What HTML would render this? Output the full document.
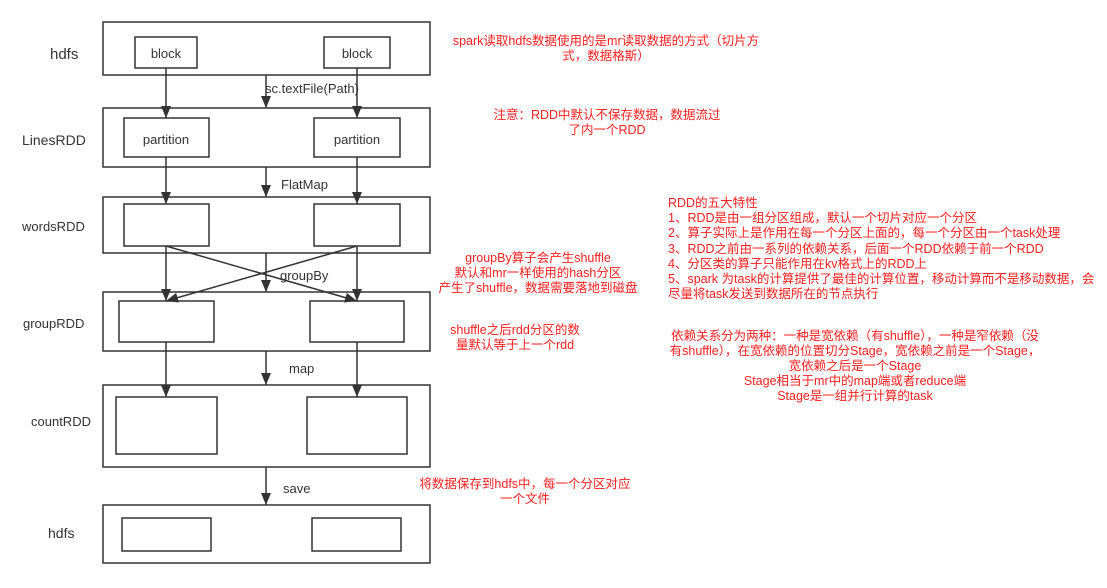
<!DOCTYPE html>
<html><head><meta charset="utf-8"><style>
body{margin:0;background:#fff;width:1107px;height:583px;overflow:hidden}
svg text{font-family:"Liberation Sans","Noto Sans CJK SC",sans-serif}
.r{fill:#ff2020;font-size:12.5px}
.k{fill:#333}
</style></head><body>
<svg width="1107" height="583" viewBox="0 0 1107 583" xmlns="http://www.w3.org/2000/svg">
<defs><marker id="a" markerWidth="10" markerHeight="12" refX="5" refY="12" orient="auto-start-reverse" markerUnits="userSpaceOnUse" viewBox="0 0 10 12"><path d="M0,0 L10,0 L5,12Z" fill="#333" transform="rotate(0)"/></marker>
<marker id="b" markerWidth="12" markerHeight="10" refX="12" refY="5" orient="auto" markerUnits="userSpaceOnUse"><path d="M0,0 L12,5 L0,10Z" fill="#333"/></marker></defs>
<g fill="none" stroke="#333" stroke-width="1.5">
<rect x="103" y="22" width="327" height="53"/>
<rect x="135" y="37" width="62" height="31"/><rect x="324" y="37" width="66" height="31"/>
<rect x="103" y="108" width="327" height="59"/>
<rect x="124" y="118" width="85" height="39"/><rect x="314" y="118" width="86" height="39"/>
<rect x="103" y="197" width="327" height="56"/>
<rect x="124" y="204" width="85" height="42"/><rect x="314" y="204" width="86" height="42"/>
<rect x="103" y="292" width="327" height="59"/>
<rect x="119" y="301" width="95" height="41"/><rect x="310" y="301" width="94" height="41"/>
<rect x="103" y="385" width="327" height="82"/>
<rect x="116" y="397" width="101" height="57"/><rect x="307" y="397" width="100" height="57"/>
<rect x="103" y="505" width="327" height="58"/>
<rect x="122" y="518" width="89" height="33"/><rect x="312" y="518" width="89" height="33"/>
</g>
<g stroke="#333" stroke-width="1.5">
<line x1="166" y1="68" x2="166" y2="118" marker-end="url(#b)"/>
<line x1="357" y1="68" x2="357" y2="118" marker-end="url(#b)"/>
<line x1="266" y1="75" x2="266" y2="108" marker-end="url(#b)"/>
<line x1="166" y1="157" x2="166" y2="204" marker-end="url(#b)"/>
<line x1="357" y1="157" x2="357" y2="204" marker-end="url(#b)"/>
<line x1="266" y1="167" x2="266" y2="197" marker-end="url(#b)"/>
<line x1="166" y1="246" x2="166" y2="301" marker-end="url(#b)"/>
<line x1="357" y1="246" x2="357" y2="301" marker-end="url(#b)"/>
<line x1="266" y1="253" x2="266" y2="292" marker-end="url(#b)"/>
<line x1="166" y1="246" x2="357" y2="301" marker-end="url(#b)"/>
<line x1="357" y1="246" x2="166" y2="301" marker-end="url(#b)"/>
<line x1="166" y1="342" x2="166" y2="397" marker-end="url(#b)"/>
<line x1="357" y1="342" x2="357" y2="397" marker-end="url(#b)"/>
<line x1="266" y1="351" x2="266" y2="385" marker-end="url(#b)"/>
<line x1="266" y1="467" x2="266" y2="505" marker-end="url(#b)"/>
</g>
<g class="k" font-size="13">
<text x="50" y="59" font-size="15">hdfs</text>
<text x="166" y="58" text-anchor="middle">block</text>
<text x="357" y="58" text-anchor="middle">block</text>
<text x="22" y="145" font-size="14">LinesRDD</text>
<text x="166" y="144" text-anchor="middle">partition</text>
<text x="357" y="144" text-anchor="middle">partition</text>
<text x="22" y="231">wordsRDD</text>
<text x="23" y="328">groupRDD</text>
<text x="31" y="426">countRDD</text>
<text x="48" y="538" font-size="14">hdfs</text>
<text x="265" y="93">sc.textFile(Path)</text>
<text x="281" y="189">FlatMap</text>
<text x="280" y="280">groupBy</text>
<text x="289" y="373">map</text>
<text x="283" y="493">save</text>
</g>
<g class="r">
<text x="606" y="45" text-anchor="middle">spark读取hdfs数据使用的是mr读取数据的方式（切片方</text>
<text x="606" y="60" text-anchor="middle">式，数据格斯）</text>
<text x="607" y="119" text-anchor="middle">注意：RDD中默认不保存数据，数据流过</text>
<text x="607" y="134" text-anchor="middle">了内一个RDD</text>
<text x="668" y="207">RDD的五大特性</text>
<text x="668" y="222">1、RDD是由一组分区组成，默认一个切片对应一个分区</text>
<text x="668" y="237">2、算子实际上是作用在每一个分区上面的，每一个分区由一个task处理</text>
<text x="668" y="253">3、RDD之前由一系列的依赖关系，后面一个RDD依赖于前一个RDD</text>
<text x="668" y="268">4、分区类的算子只能作用在kv格式上的RDD上</text>
<text x="668" y="283">5、spark 为task的计算提供了最佳的计算位置，移动计算而不是移动数据，会</text>
<text x="668" y="298">尽量将task发送到数据所在的节点执行</text>
<text x="855" y="340" text-anchor="middle">依赖关系分为两种：一种是宽依赖（有shuffle），一种是窄依赖（没</text>
<text x="855" y="355" text-anchor="middle">有shuffle），在宽依赖的位置切分Stage，宽依赖之前是一个Stage，</text>
<text x="855" y="370" text-anchor="middle">宽依赖之后是一个Stage</text>
<text x="855" y="385" text-anchor="middle">Stage相当于mr中的map端或者reduce端</text>
<text x="855" y="400" text-anchor="middle">Stage是一组并行计算的task</text>
<text x="538" y="262" text-anchor="middle">groupBy算子会产生shuffle</text>
<text x="538" y="277" text-anchor="middle">默认和mr一样使用的hash分区</text>
<text x="538" y="292" text-anchor="middle">产生了shuffle，数据需要落地到磁盘</text>
<text x="515" y="334" text-anchor="middle">shuffle之后rdd分区的数</text>
<text x="515" y="349" text-anchor="middle">量默认等于上一个rdd</text>
<text x="525" y="488" text-anchor="middle">将数据保存到hdfs中，每一个分区对应</text>
<text x="525" y="503" text-anchor="middle">一个文件</text>
</g>
</svg>
</body></html>
